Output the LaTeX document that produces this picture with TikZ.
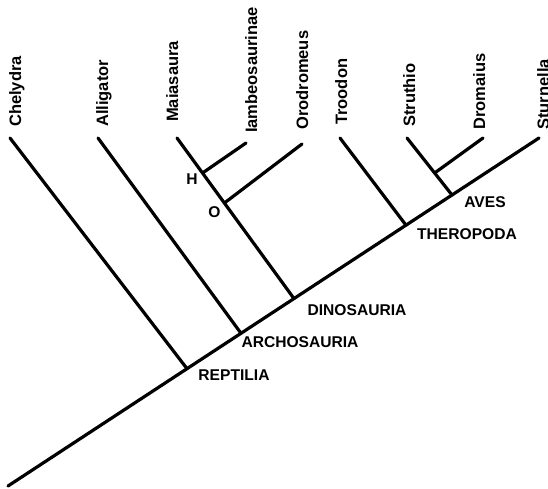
\documentclass[tikz,border=0pt]{standalone}
\usepackage{fontspec}
\setmainfont{Liberation Sans}
\usetikzlibrary{calc}
\begin{document}
\begin{tikzpicture}[x=1pt,y=-1pt,
  branch/.style={line width=3.2pt, line cap=round},
  taxon/.style={rotate=90, anchor=base west, inner sep=0pt, font=\bfseries\fontsize{16.5}{16.5}\selectfont},
  clade/.style={inner sep=0pt, font=\bfseries\fontsize{15.6}{15.6}\selectfont}]
\useasboundingbox (0,0) rectangle (548,489);
% trunk junctions
\coordinate (root) at (8,486);
\coordinate (rep) at (187,368.7);
\coordinate (arc) at (241,333.3);
\coordinate (dino) at (294,298.6);
\coordinate (thero) at (406,225.2);
\coordinate (aves) at (452,195);
% tips
\coordinate (chel) at (10,138);
\coordinate (alli) at (98,138);
\coordinate (maia) at (177,138);
\coordinate (iamb) at (246,143);
\coordinate (orod) at (302,144);
\coordinate (troo) at (340,138);
\coordinate (stru) at (407,138);
\coordinate (drom) at (483,138);
\coordinate (stur) at (539,138);
% inner junctions
\coordinate (hj) at ($(maia)!0.218!(dino)$);
\coordinate (oj) at ($(maia)!0.405!(dino)$);
\coordinate (sd) at ($(stru)!0.614!(aves)$);
% branches
\draw[branch] (root) -- (stur);
\draw[branch] (chel) -- (rep);
\draw[branch] (alli) -- (arc);
\draw[branch] (maia) -- (dino);
\draw[branch] (hj) -- (iamb);
\draw[branch] (oj) -- (orod);
\draw[branch] (troo) -- (thero);
\draw[branch] (stru) -- (aves);
\draw[branch] (sd) -- (drom);
% taxon labels
\node[taxon] (lchel) at (21,127) {Chelydra};
\node[taxon] (lalli) at (108,127) {Alligator};
\node[taxon] (lmaia) at (178,122) {Maiasaura};
\node[taxon] (liamb) at (257,133) {Iambeosaurinae};
\node[taxon] (lorod) at (308,130) {Orodromeus};
\node[taxon] (ltroo) at (347,125) {Troodon};
\node[taxon] (lstru) at (415,127) {Struthio};
\node[taxon] (ldrom) at (485,130) {Dromaius};
\node[taxon] (lstur) at (549,130) {Sturnella};
% clade labels
\node[clade] (lrep) at (234,375.5) {REPTILIA};
\node[clade] (larc) at (300,342.5) {ARCHOSAURIA};
\node[clade] (ldino) at (357,310.5) {DINOSAURIA};
\node[clade] (lthero) at (467,234.5) {THEROPODA};
\node[clade] (laves) at (485,202) {AVES};
\node[clade] (lh) at (192,179) {H};
\node[clade] (lo) at (214.5,212) {O};
\end{tikzpicture}
\end{document}
